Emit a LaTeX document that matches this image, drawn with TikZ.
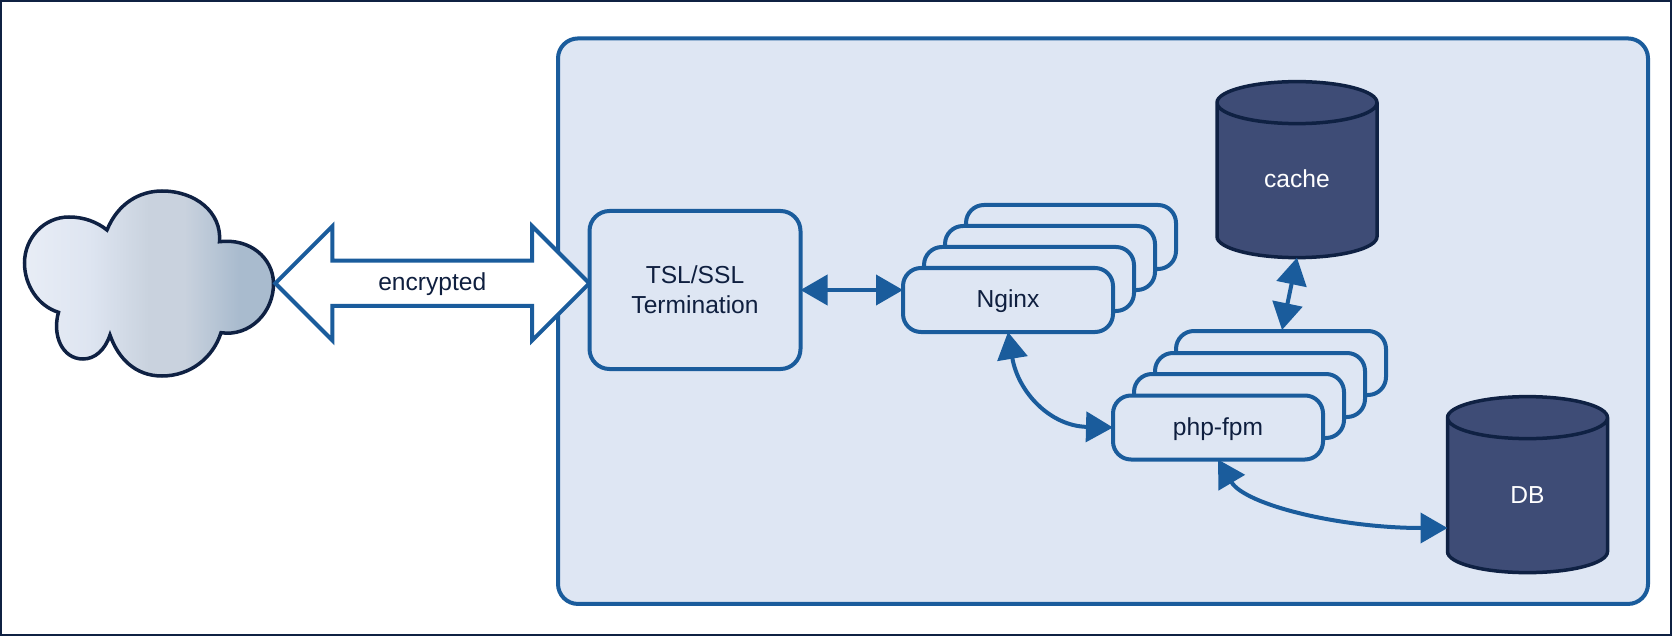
\documentclass[tikz,border=0pt]{standalone}
\usepackage{fontspec}
\setmainfont{Liberation Sans}
\usetikzlibrary{arrows.meta,shapes.geometric,shapes.arrows}
\definecolor{panelfill}{HTML}{DEE6F3}
\definecolor{blueline}{HTML}{1A5C9C}
\definecolor{navyline}{HTML}{0F2143}
\definecolor{dbfill}{HTML}{3E4C76}
\definecolor{inktext}{HTML}{0F1F3F}
\definecolor{cla}{HTML}{E8EDF6}
\definecolor{clb}{HTML}{DEE5F1}
\definecolor{clc}{HTML}{C9D2DE}
\definecolor{cld}{HTML}{A9BBCE}
\pgfdeclarehorizontalshading{cloudshade}{100bp}{color(0bp)=(cla); color(25bp)=(cla); color(38bp)=(clb); color(50bp)=(clc); color(57bp)=(clc); color(68bp)=(cld); color(75bp)=(cld); color(100bp)=(cld)}
\tikzset{
  x=1pt,y=-1pt,
  every node/.style={font=\fontsize{24.6}{30}\selectfont,text=inktext,align=center,outer sep=0pt,inner sep=0pt},
  boxstyle/.style={draw=blueline,line width=4pt,fill=panelfill,rounded corners=18pt},
  stackbox/.style={boxstyle,minimum width=210pt,minimum height=64pt,text height=21pt,text depth=5.5pt},
  dbstyle/.style={cylinder,shape border rotate=90,aspect=0.6,draw=navyline,line width=3.5pt,fill=dbfill,
     cylinder uses custom fill,cylinder body fill=dbfill,cylinder end fill=dbfill,
     text width=70pt,text height=20pt,text depth=6pt,
     minimum width=160pt,minimum height=176pt,text=white},
  link/.style={draw=blueline,line width=4pt,{Triangle[length=27pt,width=30pt]}-{Triangle[length=27pt,width=30pt]}},
}
\begin{document}
\begin{tikzpicture}
\useasboundingbox (0,0) rectangle (1672,636);
\draw[navyline,line width=2pt,fill=white] (1,1) rectangle (1671,635);
\node[draw=blueline,line width=4pt,fill=panelfill,rounded corners=20pt,minimum width=1090pt,minimum height=565.5pt] (panel) at (1103,321.2) {};
% cloud
\path[shading=cloudshade,draw=navyline,line width=3.5pt]
  (107,230) .. controls (118,203) and (140,191) .. (162,191)
  .. controls (195,191) and (222,212) .. (219.5,241.7)
  .. controls (250,238) and (273,258) .. (273.5,283)
  .. controls (274,312) and (250,337) .. (221,332.7)
  .. controls (213,358) and (190,376) .. (162,376)
  .. controls (135,376) and (118,358) .. (110,335)
  .. controls (105,350) and (95,359) .. (83,359)
  .. controls (62,359) and (52,335) .. (58.5,312.3)
  .. controls (38,306) and (24.5,285) .. (24.5,263)
  .. controls (24.5,238) and (44,217) .. (69,217)
  .. controls (84,217) and (97,222) .. (107,230) -- cycle;
% encrypted block arrow
\node[double arrow,double arrow head extend=34.5pt,double arrow tip angle=90,draw=blueline,line width=4pt,fill=white,
  minimum height=314pt,text height=20pt,text depth=6pt,inner ysep=7.65pt,inner xsep=4pt] (enc) at (432.3,283.3) {encrypted};
% TLS
\node[boxstyle,rounded corners=20pt,minimum width=211pt,minimum height=158pt] (tls) at (695,290) {TSL/SSL\\Termination};
% Nginx stack
\node[stackbox] (nginxd) at (1071,237) {};
\node[stackbox] (nginxc) at (1050,258) {};
\node[stackbox] (nginxb) at (1029,279) {};
\node[stackbox] (nginx) at (1008,300) {Nginx};
% php stack
\node[stackbox] (phpd) at (1281,363) {};
\node[stackbox] (phpc) at (1260,385) {};
\node[stackbox] (phpb) at (1239,406) {};
\node[stackbox] (php) at (1218,427.5) {php-fpm};
% stores
\node[dbstyle] (cache) at (1297,181) {cache};
\node[dbstyle] (db) at (1527.5,496) {DB};
% connectors
\draw[link] (tls.east) -- (tls.east -| nginx.west);
\draw[link] (nginx.south) .. controls (1018,392) and (1050,426) .. (php.west);
\draw[link] (cache.south) -- (1282,330);
\draw[link] (php.south) .. controls (1245,505) and (1340,528) .. (db.west |- 0,528);
\end{tikzpicture}
\end{document}
